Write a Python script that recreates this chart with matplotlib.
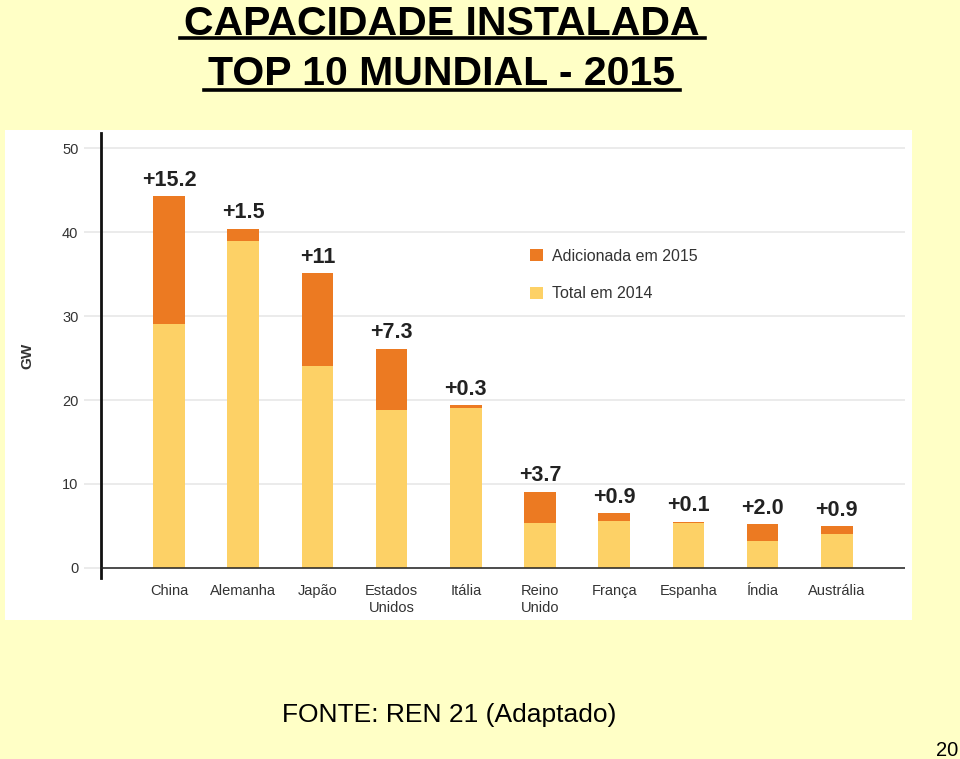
import numpy as np
import matplotlib.pyplot as plt
from matplotlib.patches import Rectangle
from matplotlib.lines import Line2D

# data (GW)
countries = ['China', 'Alemanha', 'Japão', 'Estados\nUnidos', 'Itália',
             'Reino\nUnido', 'França', 'Espanha', 'Índia', 'Austrália']
total_2014 = [29.1, 38.9, 24.1, 18.8, 19.1, 5.4, 5.6, 5.4, 3.2, 4.1]
added_2015 = [15.2, 1.5, 11.0, 7.3, 0.3, 3.7, 0.9, 0.1, 2.0, 0.9]
added_labels = ['+15.2', '+1.5', '+11', '+7.3', '+0.3', '+3.7', '+0.9', '+0.1', '+2.0', '+0.9']
yticks = [0, 10, 20, 30, 40, 50]

bg = '#FFFFC6'
orange = '#EC7A22'
yellow = '#FDD166'
grid_c = '#E6E6E6'
txt_c = '#333333'

plt.rcParams['font.family'] = ['Liberation Sans', 'DejaVu Sans']

fig = plt.figure(figsize=(9.6, 7.59), dpi=100)
fig.patch.set_facecolor(bg)

# white chart panel behind the axes
fig.patches.append(Rectangle((5/960, 1 - 620/759), 907/960, 490/759,
                             transform=fig.transFigure, facecolor='white',
                             edgecolor='none', zorder=-5))

ax = fig.add_axes([101/960, 1 - 578/759, 804/960, 445/759])
ax.set_zorder(2)
ax.patch.set_alpha(0)

x = np.arange(len(countries))
ax.bar(x, total_2014, width=0.425, color=yellow, label='Total em 2014', zorder=3)
ax.bar(x, added_2015, bottom=total_2014, width=0.425, color=orange,
       label='Adicionada em 2015', zorder=3)

for xi, b, a, lab in zip(x, total_2014, added_2015, added_labels):
    ax.annotate(lab, (xi, b + a), xytext=(0, 7.5), textcoords='offset points',
                ha='center', va='baseline', fontsize=15.5, fontweight='bold',
                color='#222222')

ax.set_xlim(-0.916, 9.92)
ax.set_ylim(-1.2, 51.8)
ax.set_yticks(yticks)
ax.set_xticks(x)
ax.set_xticklabels(countries, fontsize=10.5, color=txt_c, linespacing=1.35)
ax.tick_params(axis='x', length=0, pad=4)
ax.tick_params(axis='y', length=12.2, width=1.1, color=grid_c, pad=4,
               labelsize=10.5, labelcolor=txt_c)
ax.yaxis.get_major_ticks()[0].tick1line.set_color('#222222')
ax.yaxis.grid(True, color=grid_c, linewidth=1.1, zorder=0)
ax.set_axisbelow(True)

for s in ['top', 'right', 'bottom']:
    ax.spines[s].set_visible(False)
ax.spines['left'].set_linewidth(2)
ax.spines['left'].set_color('#111111')
ax.axhline(0, color='#222222', linewidth=1.1, zorder=4)

ax.set_ylabel('GW', fontsize=11, fontweight='bold', color=txt_c, labelpad=20)

handles, labels = ax.get_legend_handles_labels()
leg = ax.legend(handles[::-1], labels[::-1], loc='upper left',
                bbox_to_anchor=(0.516, 0.772), frameon=False, fontsize=11.5,
                handlelength=0.8, handleheight=0.8, handletextpad=0.55,
                labelspacing=1.4, labelcolor=txt_c)

# title with underlines
fig.text(442/960, 1 - 35/759, 'CAPACIDADE INSTALADA', ha='center', va='baseline',
         fontsize=29.5, fontweight='bold', color='black')
fig.text(442/960, 1 - 85/759, 'TOP 10 MUNDIAL - 2015', ha='center', va='baseline',
         fontsize=29.5, fontweight='bold', color='black')
fig.add_artist(Line2D([180/960, 705/960], [1 - 38/759, 1 - 38/759],
                      color='black', linewidth=2.6, transform=fig.transFigure))
fig.add_artist(Line2D([204/960, 680/960], [1 - 90/759, 1 - 90/759],
                      color='black', linewidth=2.6, transform=fig.transFigure))

# footer
fig.text(449/960, 1 - 722/759, 'FONTE: REN 21 (Adaptado)', ha='center',
         va='baseline', fontsize=19, color='black')
fig.text(958/960, 1 - 756/759, '20', ha='right', va='baseline', fontsize=14.5,
         color='black')

fig.savefig('out.png', dpi=100, facecolor=bg)
